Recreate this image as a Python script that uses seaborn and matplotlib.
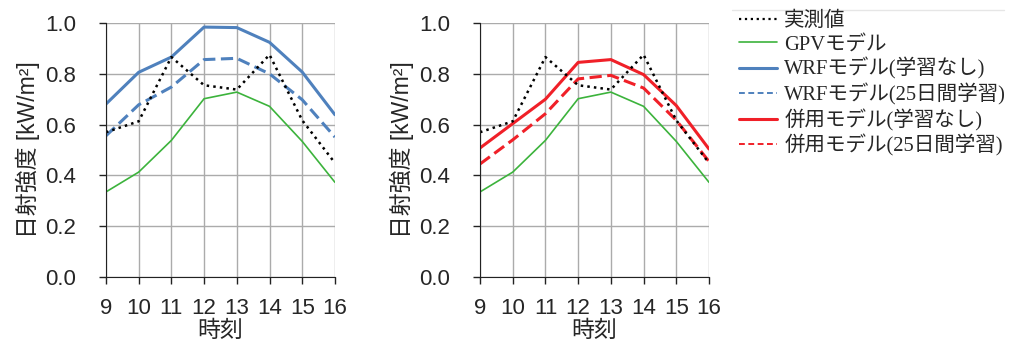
import numpy as np
import pandas as pd
import matplotlib
matplotlib.use('Agg')
import matplotlib.pyplot as plt
import seaborn as sns
from matplotlib.lines import Line2D

# hours and values
hours = [9, 10, 11, 12, 13, 14, 15, 16]
observed = [0.57, 0.613, 0.866, 0.755, 0.738, 0.875, 0.617, 0.449]
gpv = [0.335, 0.413, 0.538, 0.702, 0.728, 0.672, 0.534, 0.373]
wrf_raw = [0.681, 0.806, 0.866, 0.984, 0.982, 0.924, 0.807, 0.639]
wrf_25 = [0.556, 0.678, 0.748, 0.856, 0.861, 0.80, 0.698, 0.551]
comb_raw = [0.508, 0.604, 0.70, 0.845, 0.856, 0.797, 0.675, 0.504]
comb_25 = [0.445, 0.54, 0.643, 0.78, 0.794, 0.744, 0.617, 0.455]

labels = ['実測値', 'GPVモデル', 'WRFモデル(学習なし)', 'WRFモデル(25日間学習)',
          '併用モデル(学習なし)', '併用モデル(25日間学習)']

sns.set_style('ticks')
plt.rcParams['font.family'] = ['Liberation Sans', 'Noto Sans CJK JP', 'DejaVu Sans']

blue = '#4f81bd'
green = '#3cb33c'
red = '#f02028'

fig = plt.figure(figsize=(10.14, 3.42), dpi=100)
ax1 = fig.add_axes([0.1045, 0.19, 0.2258, 0.7427])
ax2 = fig.add_axes([0.4734, 0.19, 0.2258, 0.7427])

def draw(ax, series):
    for vals, color, ls, lw in series:
        sns.lineplot(x=hours, y=vals, ax=ax, color=color, linestyle=ls, linewidth=lw)

dash = (0, (4, 1.8))
draw(ax1, [(gpv, green, '-', 1.2),
           (wrf_raw, blue, '-', 2.2),
           (wrf_25, blue, dash, 2.2),
           (observed, 'black', ':', 1.8)])
draw(ax2, [(gpv, green, '-', 1.2),
           (comb_raw, red, '-', 2.2),
           (comb_25, red, dash, 2.2),
           (observed, 'black', ':', 1.8)])

for ax in (ax1, ax2):
    ax.set_xlim(9, 16)
    ax.set_ylim(0, 1.0)
    ax.set_xticks(hours)
    ax.set_yticks(np.arange(0, 1.01, 0.2))
    ax.set_yticklabels([f'{v:.1f}' for v in np.arange(0, 1.01, 0.2)])
    ax.grid(True, color='#ababab', linewidth=1.0)
    ax.set_axisbelow(True)
    for s in ('top', 'right'):
        ax.spines[s].set_visible(False)
    ax.spines['left'].set_color('#222222')
    ax.spines['bottom'].set_color('#222222')
    ax.tick_params(axis='both', bottom=True, left=True, top=False, right=False,
                   direction='out', length=5, width=1, color='#222222', labelsize=16)
    ax.tick_params(axis='y', pad=16.5)
    ax.tick_params(axis='x', pad=10)
    ax.set_xlabel('時刻', fontsize=16.5, labelpad=0)
    ax.set_ylabel('日射強度 [kW/m²]', fontsize=16.5, labelpad=4)

handles = [Line2D([], [], color='black', linestyle=':', linewidth=1.6),
           Line2D([], [], color=green, linewidth=1.2),
           Line2D([], [], color=blue, linewidth=2.2),
           Line2D([], [], color=blue, linestyle=(0, (3, 1.8)), linewidth=1.4),
           Line2D([], [], color=red, linewidth=2.2),
           Line2D([], [], color=red, linestyle=(0, (3, 1.8)), linewidth=1.4)]
fig.legend(handles, labels, loc='upper left', bbox_to_anchor=(0.729, 0.965),
           frameon=False, prop={'family': ['Liberation Serif', 'Noto Sans CJK JP'], 'size': 14.8},
           handlelength=1.85, handletextpad=0.35, labelspacing=0.17, borderaxespad=0,
           borderpad=0)
fig.add_artist(Line2D([0.722, 0.99], [0.97, 0.97], color='#e6e6e6', linewidth=1,
                      transform=fig.transFigure))

fig.savefig('out.png', dpi=100)
